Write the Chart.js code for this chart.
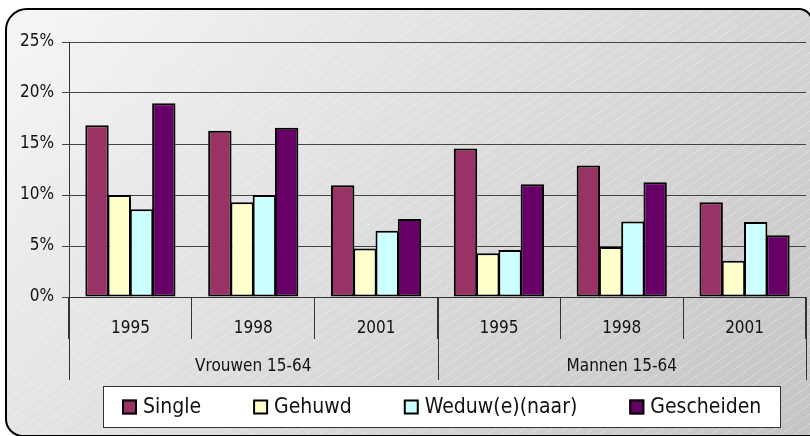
<!DOCTYPE html>
<html>
<head>
<meta charset="utf-8">
<script src="https://cdn.jsdelivr.net/npm/chart.js@4"></script>
<style>
  html, body { margin: 0; padding: 0; background: #fff; }
  #wrap { position: relative; width: 810px; height: 436px; overflow: hidden; }
  #bg {
    position: absolute; left: 5px; top: 8px; width: 804px; height: 425px;
    border: 2px solid #000; border-radius: 22px 14px 0 18px;
    background:
      repeating-linear-gradient(145deg, rgba(255,255,255,0) 0 7px, rgba(255,255,255,0.25) 7px 8px),
      linear-gradient(135deg, #f6f6f6 0%, #dcdcdc 50%, #c4c4c4 100%);
  }
  #chart { position: absolute; left: 0; top: 0; }
</style>
</head>
<body>
<div id="wrap">
  <div id="bg"></div>
  <canvas id="chart" width="810" height="436"></canvas>
</div>
<script>
// --- data ---
const years = ['1995', '1998', '2001', '1995', '1998', '2001'];
const groups = ['Vrouwen 15-64', 'Mannen 15-64'];
const single     = [16.85, 16.3, 10.95, 14.55, 12.9, 9.3];
const gehuwd     = [10.0, 9.3, 4.75, 4.3, 4.9, 3.55];
const weduw      = [8.6, 10.0, 6.5, 4.6, 7.4, 7.35];
const gescheiden = [19.0, 16.6, 7.65, 11.05, 11.25, 6.05];
const yTicks = [0, 5, 10, 15, 20, 25];

const FONT = "'DejaVu Sans Condensed', 'DejaVu Sans', sans-serif";

// two-level category axis: long separators + group labels
const groupAxis = {
  id: 'groupAxis',
  afterDraw(chart) {
    const x = chart.scales.x;
    const ctx = chart.ctx;
    const n = years.length / groups.length;
    const half = (x.getPixelForValue(1) - x.getPixelForValue(0)) / 2;
    const top = chart.chartArea.bottom;
    ctx.save();
    ctx.strokeStyle = '#333';
    ctx.lineWidth = 1;
    for (let g = 0; g <= groups.length; g++) {
      const idx = Math.min(g * n, years.length - 1);
      const px = Math.round(x.getPixelForValue(idx) + (g * n > years.length - 1 ? half : -half)) + 0.5;
      ctx.beginPath();
      ctx.moveTo(px, top);
      ctx.lineTo(px, top + 83);
      ctx.stroke();
    }
    ctx.fillStyle = '#111';
    ctx.font = '17px ' + FONT;
    ctx.textAlign = 'center';
    ctx.textBaseline = 'middle';
    groups.forEach((name, g) => {
      const cx = (x.getPixelForValue(g * n) + x.getPixelForValue(g * n + n - 1)) / 2;
      ctx.fillText(name, cx, top + 70);
    });
    ctx.restore();
  }
};

// boxed legend with wide spacing
const boxLegend = {
  id: 'boxLegend',
  afterDraw(chart) {
    const ctx = chart.ctx;
    const L = 103.5, T = 386.5, R = 780.5, B = 427.5;
    ctx.save();
    ctx.fillStyle = '#fff';
    ctx.fillRect(L, T, R - L, B - T);
    ctx.strokeStyle = '#333';
    ctx.lineWidth = 1;
    ctx.strokeRect(L, T, R - L, B - T);
    ctx.font = '21px ' + FONT;
    ctx.textBaseline = 'middle';
    ctx.textAlign = 'left';
    const sq = 15, gapTxt = 6, gapItem = 52;
    const ds = chart.data.datasets;
    const widths = ds.map(d => sq + gapTxt + ctx.measureText(d.label).width);
    const total = widths.reduce((a, b) => a + b, 0) + gapItem * (ds.length - 1);
    let cx = Math.round((L + R) / 2 - total / 2);
    const cy = (T + B) / 2;
    ds.forEach((d, i) => {
      ctx.fillStyle = d.backgroundColor;
      ctx.fillRect(cx, cy - sq / 2, sq, sq);
      ctx.strokeStyle = '#000';
      ctx.lineWidth = 2;
      ctx.strokeRect(cx + 1, cy - sq / 2 + 1, sq - 2, sq - 2);
      ctx.fillStyle = '#111';
      ctx.fillText(d.label, cx + sq + gapTxt, cy + 1);
      cx += widths[i] + gapItem;
    });
    ctx.restore();
  }
};

// bars overlap ~1px so neighbouring borders merge into one solid line
const mkSet = (label, data, color) => ({
  label, data,
  backgroundColor: color,
  borderColor: '#000',
  borderWidth: 2,
  borderSkipped: false,
  categoryPercentage: 0.725,
  barPercentage: 1.05
});

new Chart(document.getElementById('chart'), {
  type: 'bar',
  data: {
    labels: years,
    datasets: [
      mkSet('Single', single, '#993366'),
      mkSet('Gehuwd', gehuwd, '#FFFFCC'),
      mkSet('Weduw(e)(naar)', weduw, '#CCFFFF'),
      mkSet('Gescheiden', gescheiden, '#660066')
    ]
  },
  options: {
    responsive: false,
    animation: false,
    layout: { padding: { top: 42, right: 4, left: 0, bottom: 0 } },
    plugins: { legend: { display: false }, tooltip: { enabled: false } },
    scales: {
      x: {
        afterFit: s => { s.height = 139; },
        grid: { offset: true, drawOnChartArea: false, tickLength: 42, color: '#333' },
        border: { color: '#333', width: 1 },
        ticks: { color: '#111', font: { family: FONT, size: 17 }, padding: -21, maxRotation: 0, autoSkip: false }
      },
      y: {
        min: 0, max: 25,
        afterFit: s => { s.width = 69; },
        afterBuildTicks: s => { s.ticks = yTicks.map(v => ({ value: v })); },
        grid: { color: '#444', tickLength: 7 },
        border: { color: '#333', width: 1 },
        ticks: { color: '#111', font: { family: FONT, size: 17 }, padding: 8, callback: v => v + '%' }
      }
    }
  },
  plugins: [groupAxis, boxLegend]
});
</script>
</body>
</html>
